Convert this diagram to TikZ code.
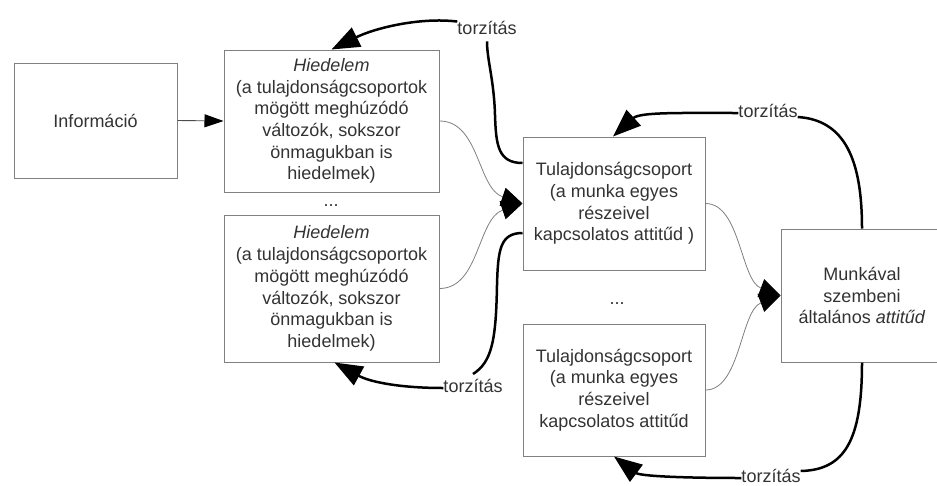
\documentclass[tikz,border=0pt]{standalone}
\usepackage{fontspec}
\setmainfont{Liberation Sans}
\usetikzlibrary{arrows.meta}
\begin{document}
\begin{tikzpicture}[x=1pt,y=-1pt,
  box/.style={draw=black!50, line width=1pt, text=black!80, align=center, inner sep=0pt,
              font=\fontsize{18}{21.7}\selectfont},
  lbl/.style={text=black!80, inner sep=0pt, font=\fontsize{18}{21.7}\selectfont, anchor=base},
  softarrow/.style={draw=black!50, line width=0.8pt, -{Triangle[length=21pt,width=19pt,color=black]}},
  infoarrow/.style={draw=black!70, line width=0.9pt, -{Triangle[length=19pt,width=13pt,color=black]}},
  boldarrow/.style={line width=2.5pt, -{Triangle[length=28pt,width=21pt]}},
  boldline/.style={line width=2.5pt}]
\useasboundingbox (0,0) rectangle (937,485);
\fill[white] (0,0) rectangle (937,485);

% boxes
\node[box, minimum width=163pt, minimum height=115pt] (info) at (95.5,120.5) {Információ};
\node[box, minimum width=215pt, minimum height=142pt] (h1) at (331.5,121)
  {\textit{Hiedelem}\\(a tulajdonságcsoportok\\mögött meghúzódó\\változók, sokszor\\önmagukban is\\hiedelmek)};
\node[box, minimum width=215pt, minimum height=147pt] (h2) at (331.5,288.5)
  {\textit{Hiedelem}\\(a tulajdonságcsoportok\\mögött meghúzódó\\változók, sokszor\\önmagukban is\\hiedelmek)};
\node[box, minimum width=182pt, minimum height=133pt] (tu1) at (614,203.5)
  {Tulajdonságcsoport\\(a munka egyes\\részeivel\\kapcsolatos attitűd )};
\node[box, minimum width=182pt, minimum height=132pt] (tu2) at (614,390)
  {Tulajdonságcsoport\\(a munka egyes\\részeivel\\kapcsolatos attitűd};
\node[box, minimum width=162pt, minimum height=133pt] (mu) at (862,295.5)
  {Munkával\\szembeni\\általános \textit{attitűd}};

% dots
\node[lbl] (d1) at (331,206) {...};
\node[lbl] (d2) at (617,304) {...};

% labels
\node[lbl] (t1) at (487,34) {torzítás};
\node[lbl] (t2) at (473,392) {torzítás};
\node[lbl] (t3) at (768,117) {torzítás};
\node[lbl] (t4) at (771,482) {torzítás};

% thin connectors
\draw[infoarrow] (info.east) -- (h1.west);
\draw[softarrow] (h1.east) .. controls +(40,0) and +(-45,-15) .. (tu1.west);
\draw[softarrow] (h2.east) .. controls +(40,0) and +(-45,15) .. (tu1.west);
\draw[softarrow] (tu1.east) .. controls +(35,0) and +(-40,-15) .. (mu.west);
\draw[softarrow] (tu2.east) .. controls +(35,0) and +(-40,15) .. (mu.west);

% bold distortion loops
\draw[boldline] ([yshift=40.5pt]tu1.west) .. controls (498,163) and (496,145) .. (495,115)
  .. controls (494,80) and (487,60) .. ([yshift=-7pt]t1.south);
\draw[boldarrow] ([yshift=-1pt]t1.north west) .. controls (420,17) and (375,28) .. (h1.north);

\draw[boldline] ([yshift=-29.5pt]tu1.west) .. controls (500,233) and (498,250) .. (497,285)
  .. controls (496,340) and (492,362) .. ([yshift=18pt]t2.base) ;
\draw[boldarrow] ([yshift=4pt]t2.base west) .. controls (400,388) and (370,382) .. ([xshift=3pt]h2.south);

\draw[boldline] (mu.north) .. controls (862,160) and (845,120) .. (t3.base east);
\draw[boldarrow] ([yshift=4pt]t3.base west) .. controls (680,113) and (640,112) .. ([xshift=-1pt]tu1.north);

\draw[boldline] (mu.south) .. controls (862,440) and (845,470) .. ([yshift=11pt]t4.base east);
\draw[boldarrow] ([yshift=4pt]t4.base west) .. controls (680,478) and (640,476) .. (tu2.south);
\end{tikzpicture}
\end{document}
